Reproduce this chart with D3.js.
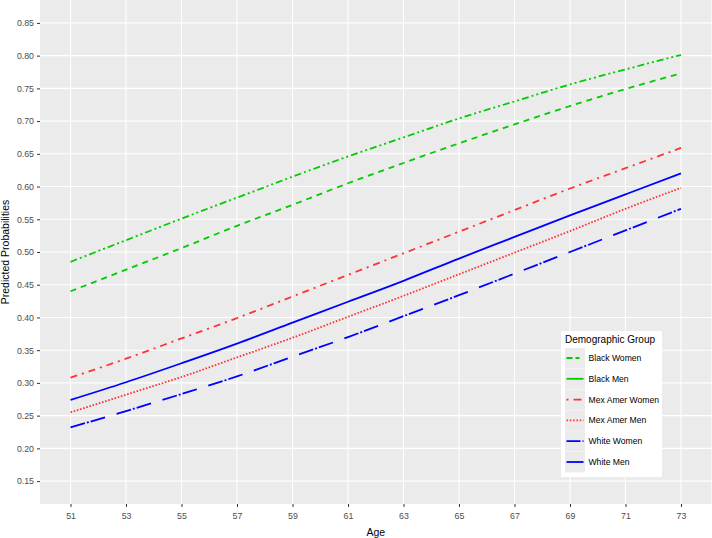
<!DOCTYPE html>
<html><head><meta charset="utf-8">
<script src="https://cdn.jsdelivr.net/npm/d3@7"></script>
<style>body{margin:0;background:#fff;font-family:"Liberation Sans",Arial,sans-serif;}</style>
</head><body><svg id="c" width="712" height="538"></svg>
<script>
const ages = [51,53,55,57,59,61,63,65,67,69,71,73];
const xTicks = [51,53,55,57,59,61,63,65,67,69,71,73];
const yTicks = [0.15,0.20,0.25,0.30,0.35,0.40,0.45,0.50,0.55,0.60,0.65,0.70,0.75,0.80,0.85];
const groups = ["Black Women","Black Men","Mex Amer Women","Mex Amer Men","White Women","White Men"];
const blackWomen = [0.485,0.518,0.551,0.583,0.615,0.646,0.675,0.704,0.730,0.756,0.779,0.801];
const blackMen   = [0.440,0.473,0.506,0.540,0.572,0.605,0.636,0.666,0.695,0.723,0.749,0.773];
const mexWomen   = [0.308,0.337,0.368,0.399,0.432,0.465,0.498,0.531,0.564,0.597,0.628,0.659];
const mexMen     = [0.255,0.282,0.309,0.339,0.369,0.401,0.433,0.466,0.499,0.532,0.566,0.598];
const whiteWomen = [0.232,0.257,0.283,0.310,0.340,0.370,0.402,0.434,0.467,0.500,0.533,0.566];
const whiteMen   = [0.274,0.301,0.330,0.360,0.392,0.424,0.456,0.490,0.523,0.556,0.588,0.620];
const seriesValues = [blackWomen, blackMen, mexWomen, mexMen, whiteWomen, whiteMen];
const colors = ["#00cc00","#00cc00","#ff3333","#ff3333","#0000ff","#0000ff"];
const lineDash = ["7,3,2,3,2,3","6,5","7,5,2,5","1.6,1.7","15,2,2,2,15,12",null];
const keyDash = ["6,3,4,4,2,4",null,"2,5,8,5","1.6,1.7","14,2,2,4",null];

const svg = d3.select("#c");
const L = 40, R = 711.5, T = 0, B = 504;
const x = d3.scaleLinear().domain([49.9, 74.1]).range([L, R]);
const y = d3.scaleLinear().domain([0.115, 0.885]).range([B, T]);

svg.append("rect").attr("x",L).attr("y",T).attr("width",R-L).attr("height",B-T).attr("fill","#ebebeb");
const g = svg.append("g");
g.selectAll(".gy").data(yTicks).join("line")
  .attr("x1",L).attr("x2",R).attr("y1",d=>y(d)).attr("y2",d=>y(d))
  .attr("stroke","#fff").attr("stroke-width",1.1);
g.selectAll(".gx").data(xTicks).join("line")
  .attr("y1",T).attr("y2",B).attr("x1",d=>x(d)).attr("x2",d=>x(d))
  .attr("stroke","#fff").attr("stroke-width",1.1);

const xAxis = svg.append("g").attr("transform",`translate(0,${B})`)
  .call(d3.axisBottom(x).tickValues(xTicks).tickSize(3).tickPadding(6).tickFormat(d3.format("d")));
const yAxis = svg.append("g").attr("transform",`translate(${L},0)`)
  .call(d3.axisLeft(y).tickValues(yTicks).tickSize(3).tickPadding(3).tickFormat(d3.format(".2f")));
[xAxis,yAxis].forEach(a=>{
  a.select(".domain").remove();
  a.selectAll(".tick line").attr("stroke","#333").attr("stroke-width",1);
  a.selectAll(".tick text").attr("fill","#4d4d4d").style("font-size","8.8px").style("font-family","Liberation Sans, Arial, sans-serif");
});

const line = d3.line().x((d,i)=>x(ages[i])).y(d=>y(d)).curve(d3.curveMonotoneX);
seriesValues.forEach((vals,k)=>{
  svg.append("path").datum(vals).attr("d",line).attr("fill","none")
    .attr("stroke",colors[k]).attr("stroke-width",1.8)
    .attr("stroke-dasharray",lineDash[k]);
});

svg.append("text").attr("x",(L+R)/2).attr("y",536).attr("text-anchor","middle")
  .style("font-size","10.5px").attr("fill","#000").text("Age");
svg.append("text").attr("transform",`translate(9,${(T+B)/2}) rotate(-90)`).attr("text-anchor","middle")
  .style("font-size","10.5px").attr("fill","#000").text("Predicted Probabilities");

// legend
const lg = svg.append("g").attr("transform","translate(561,331)");
lg.append("rect").attr("width",101).attr("height",146).attr("fill","#fff");
lg.append("text").attr("x",4).attr("y",12).style("font-size","10px").attr("fill","#000").text("Demographic Group");
groups.forEach((name,k)=>{
  const cy = 27 + k*20.8;
  lg.append("rect").attr("x",4).attr("y",cy-10).attr("width",20).attr("height",20.4).attr("fill","#ebebeb");
  lg.append("line").attr("x1",5.5).attr("x2",22.5).attr("y1",cy).attr("y2",cy)
    .attr("stroke",colors[k]).attr("stroke-width",1.8).attr("stroke-dasharray",keyDash[k]);
  lg.append("text").attr("x",27.5).attr("y",cy+3).style("font-size","8.6px").attr("fill","#000").text(name);
});
</script></body></html>
